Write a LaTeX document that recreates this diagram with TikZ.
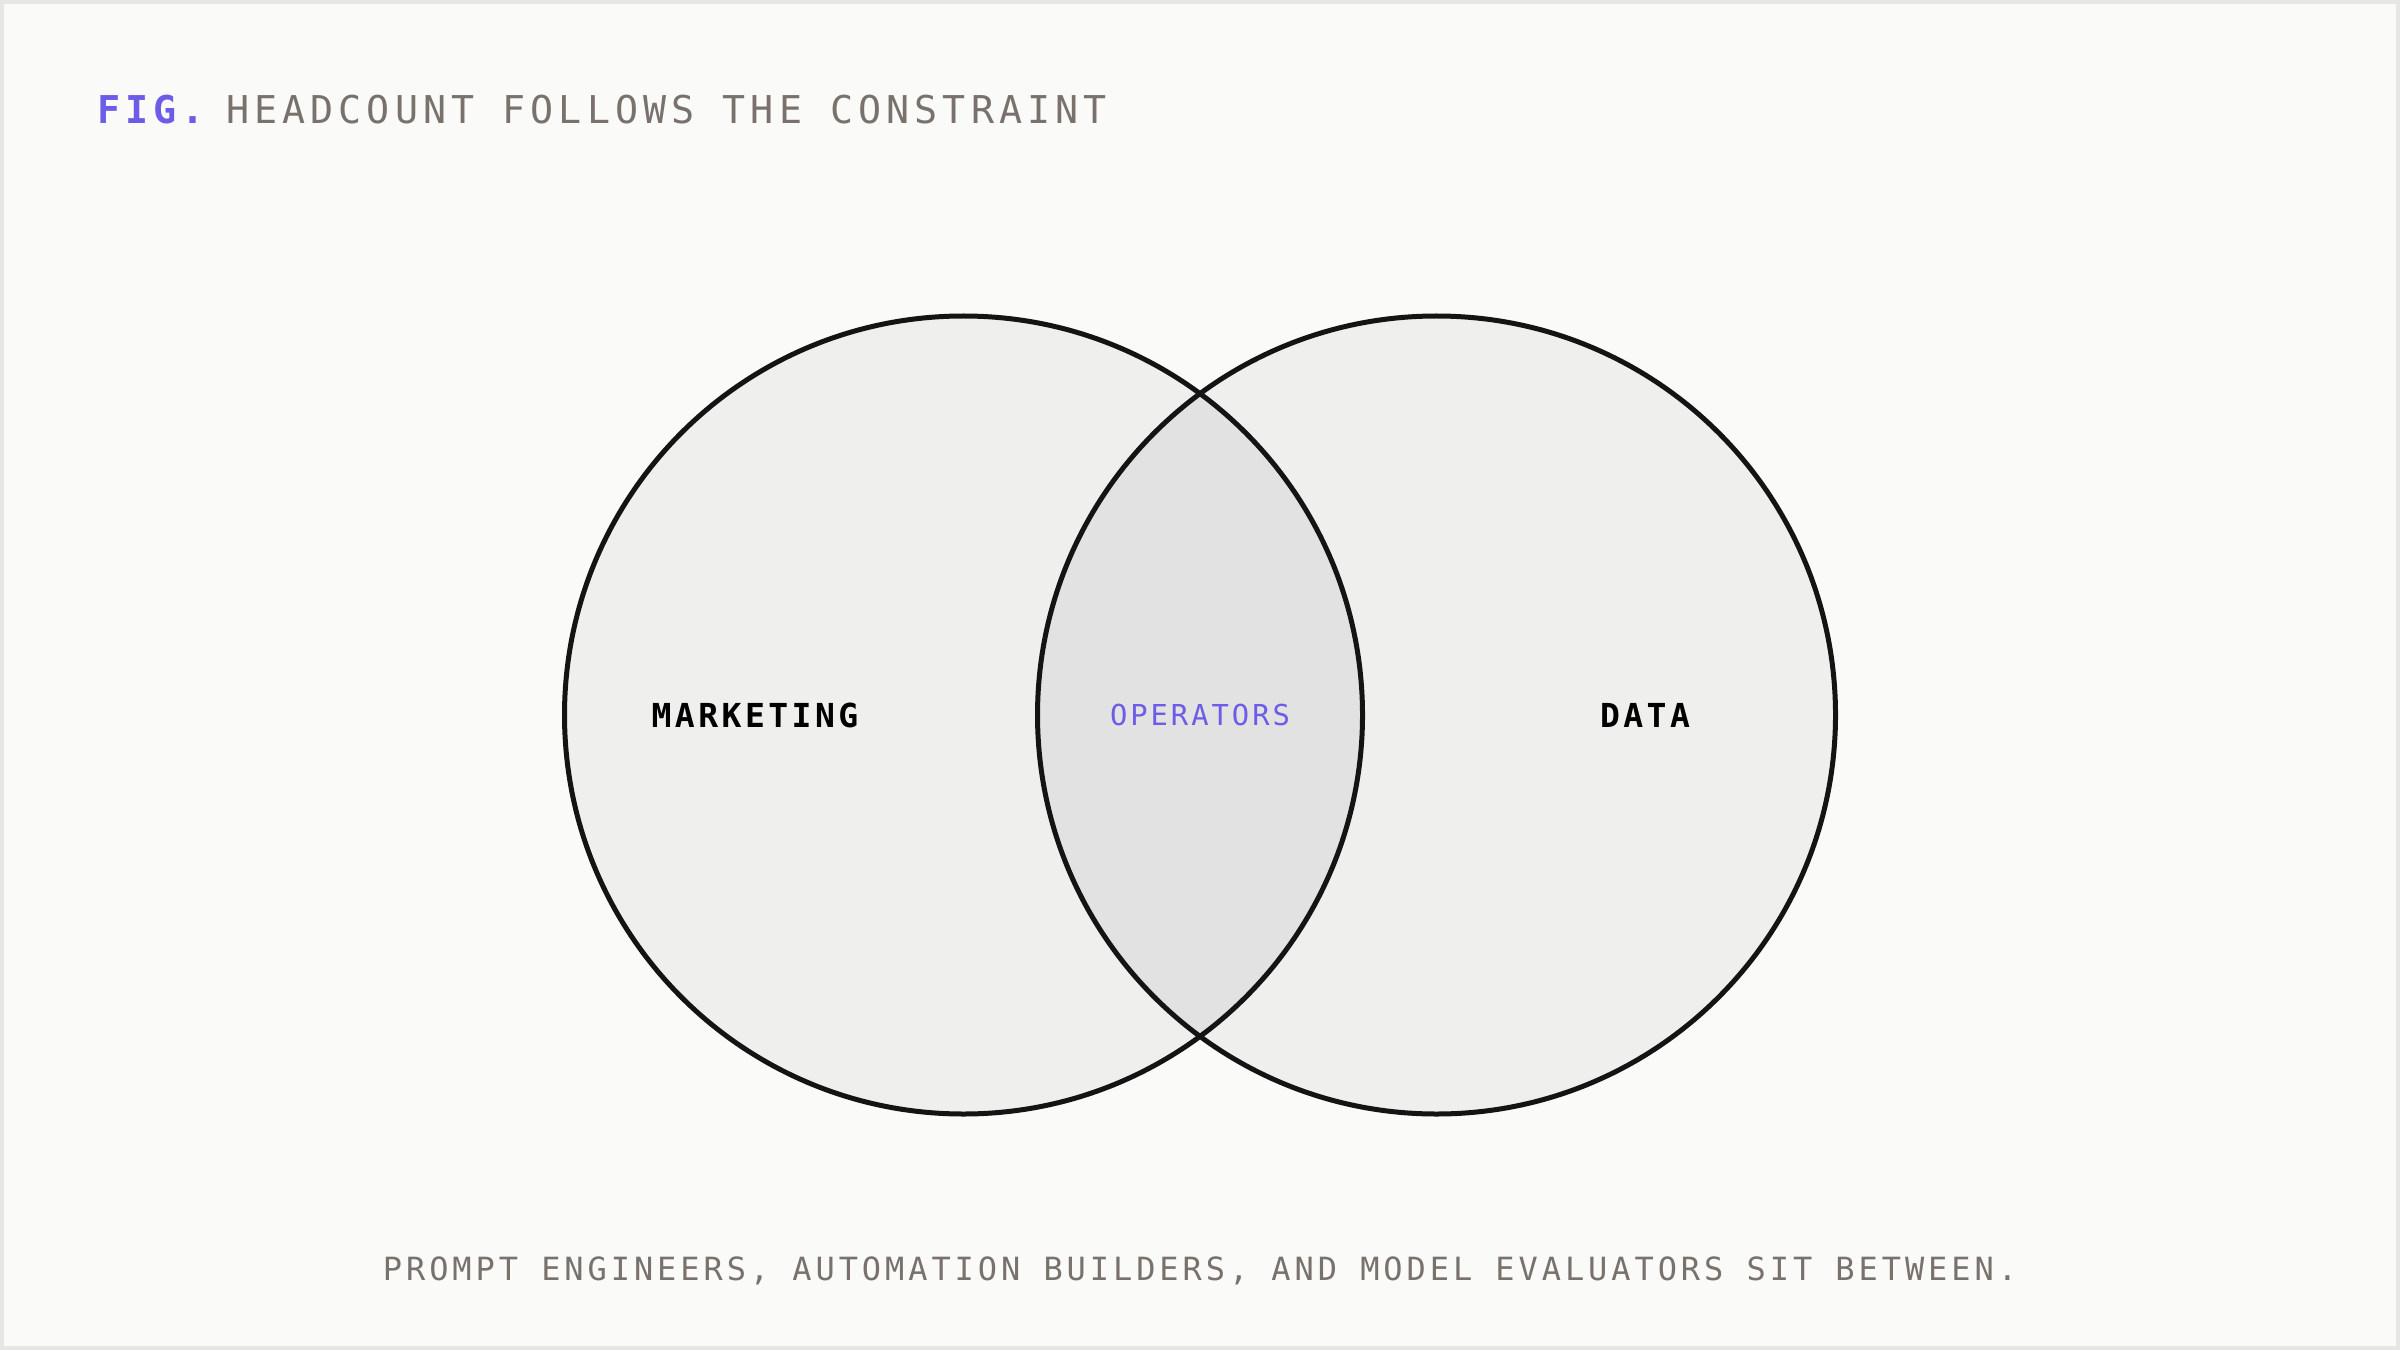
\documentclass[tikz,border=0pt]{standalone}
\usepackage{fontspec}
\usepackage{xcolor}
\usetikzlibrary{positioning}
\newfontfamily\monofont{DejaVu Sans Mono}
\definecolor{paper}{HTML}{FAFAF8}
\definecolor{framegray}{HTML}{E6E6E4}
\definecolor{vennfill}{HTML}{EFEFEE}
\definecolor{lensfill}{HTML}{E2E2E2}
\definecolor{inkgray}{HTML}{78716C}
\definecolor{accent}{HTML}{6C5CE7}
\tikzstyle{venn} = [circle, minimum size=7.98cm, inner sep=0pt, fill=vennfill]
\tikzstyle{ring} = [line width=0.05cm, draw=black!92]
\tikzstyle{setlabel} = [inner sep=0pt, anchor=base, text=black, font=\fontsize{9.4}{11}\monofont\bfseries\addfontfeature{LetterSpace=10.5}]
\tikzstyle{headline} = [inner sep=0pt, text=inkgray, font=\fontsize{10.9}{13}\monofont\addfontfeature{LetterSpace=13.3}]

\begin{document}
\begin{tikzpicture}

% page and frame
\draw [line width=0.04cm, draw=framegray, fill=paper] (0.02,0.02) rectangle (23.98,13.48);
\useasboundingbox (0,0) rectangle (24,13.5);

% title
\node (fig) [headline, anchor=base west, text=accent, font=\fontsize{10.9}{13}\monofont\bfseries\addfontfeature{LetterSpace=13.3}] at (0.965,12.26) {FIG.};
\node (title) [headline, base right=0.2cm of fig] {HEADCOUNT FOLLOWS THE CONSTRAINT};

% the two sets
\node (marketing) [venn] at (9.635,6.35) {};
\node (data) [venn] at (14.365,6.35) {};
\begin{scope}
\clip (marketing.center) circle (3.99cm);
\fill [lensfill] (data.center) circle (3.99cm);
\end{scope}
\draw [ring] (marketing.center) circle (3.99cm);
\draw [ring] (data.center) circle (3.99cm);

\node (mktlabel) [setlabel] at (7.55,6.23) {MARKETING};
\node (datalabel) [setlabel] at (16.45,6.23) {DATA};
\node (oplabel) [setlabel, text=accent, font=\fontsize{8.2}{10}\monofont\addfontfeature{LetterSpace=10.3}] at (12,6.245) {OPERATORS};

% caption
\node (note) [headline, anchor=base, font=\fontsize{9.1}{11}\monofont\addfontfeature{LetterSpace=12.3}] at (12,0.70) {PROMPT ENGINEERS, AUTOMATION BUILDERS, AND MODEL EVALUATORS SIT BETWEEN.};

\end{tikzpicture}
\end{document}
